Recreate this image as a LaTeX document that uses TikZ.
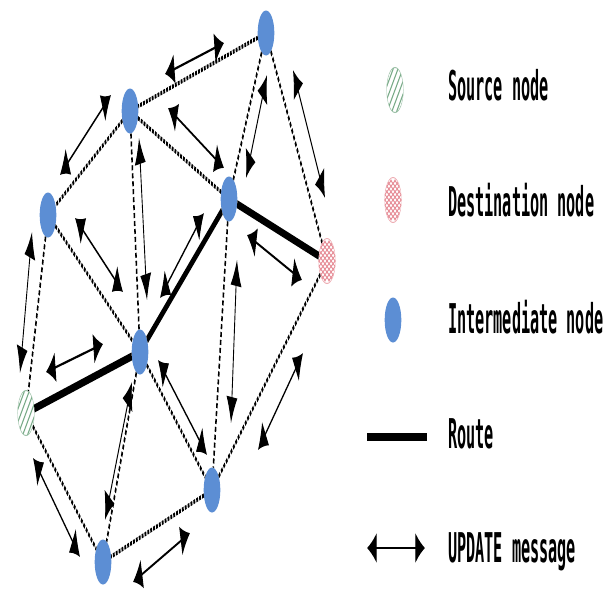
\documentclass[tikz,border=0pt]{standalone}
\usepackage{fontspec}
\setmonofont{DejaVu Sans Mono}
\usetikzlibrary{arrows.meta,calc}

\definecolor{nodeblue}{RGB}{92,142,212}
\definecolor{srcgreen}{RGB}{120,170,135}
\definecolor{dstpink}{RGB}{230,140,150}

\tikzset{
  inter/.style={circle, minimum size=45pt, inner sep=0pt, fill=nodeblue},
  src/.style={circle, minimum size=45pt, inner sep=0pt, draw=srcgreen!70, line width=1pt,
    path picture={\foreach \k in {-5,...,5}{
      \draw[srcgreen, line width=2.2pt]
        ($(path picture bounding box.center)+(\k*13pt-35pt,-35pt)$) -- ++(70pt,70pt);}}},
  dst/.style={circle, minimum size=45pt, inner sep=0pt, draw=dstpink!70, line width=1pt,
    path picture={\foreach \k in {-6,...,6}{
      \draw[dstpink, line width=1.4pt]
        ($(path picture bounding box.center)+(\k*11pt-40pt,-20pt)$) -- ++(80pt,40pt);
      \draw[dstpink, line width=1.4pt]
        ($(path picture bounding box.center)+(\k*11pt-40pt,20pt)$) -- ++(80pt,-40pt);}}},
  link/.style={line width=4.2pt, dash pattern=on 5pt off 3pt},
  route/.style={line width=8pt},
  msg/.style={line width=2.4pt, {Latex[length=26pt,width=30pt]}-{Latex[length=26pt,width=30pt]}},
  lbl/.style={anchor=base west, inner sep=0pt, font=\fontsize{41}{41}\selectfont\ttfamily\bfseries},
}

\begin{document}
\begin{tikzpicture}
\useasboundingbox (0,0) rectangle (615pt,-589pt);
% the whole drawing is narrowed horizontally; coordinates are given in final units
\begin{scope}[transform canvas={xscale=0.37}, x=2.7027pt, y=-1pt]

  % network nodes
  \node[inter] (A) at (266,33)  {};
  \node[inter] (B) at (130,111) {};
  \node[inter] (C) at (48,215)  {};
  \node[inter] (D) at (229,199) {};
  \node[dst]   (E) at (327,261) {};
  \node[inter] (F) at (140,352) {};
  \node[src]   (S) at (26,413)  {};
  \node[inter] (G) at (212,490) {};
  \node[inter] (H) at (103,562) {};

  % radio links
  \foreach \u/\v in {A/B, A/D, A/E, B/C, B/D, B/F, C/S, C/F, D/G, F/G, F/H, S/H, G/H, G/E}
    \draw[link] (\u) -- (\v);

  % chosen route
  \draw[route] (S) -- (F);
  \draw[route] (F) -- (D);
  \draw[route] (D) -- (E);

  % UPDATE messages exchanged along the links
  \draw[msg] (165,74)  -- (224,43);
  \draw[msg] (60,175)  -- (111,95);
  \draw[msg] (168,108) -- (224,168);
  \draw[msg] (267,75)  -- (246,178);
  \draw[msg] (293,70)  -- (325,198);
  \draw[msg] (139,138) -- (147,300);
  \draw[msg] (75,218)  -- (123,292);
  \draw[msg] (204,213) -- (160,298);
  \draw[msg] (247,235) -- (302,280);
  \draw[msg] (32,232)  -- (20,373);
  \draw[msg] (46,372)  -- (103,344);
  \draw[msg] (237,260) -- (231,423);
  \draw[msg] (303,353) -- (258,450);
  \draw[msg] (158,360) -- (207,455);
  \draw[msg] (132,382) -- (105,520);
  \draw[msg] (33,458)  -- (80,557);
  \draw[msg] (190,533) -- (133,582);

  % legend
  \node[src]   (lsrc) at (395,90)  {};
  \node[dst]   (ldst) at (393,200) {};
  \node[inter] (lint) at (393,320) {};
  \coordinate (lr1) at (367,437);
  \coordinate (lr2) at (427,437);
  \draw[route] (lr1) -- (lr2);
  \coordinate (lm1) at (367,548);
  \coordinate (lm2) at (425,548);
  \draw[msg] (lm1) -- (lm2);

  \node[lbl] (tsrc) at (448,100) {Source node};
  \node[lbl] (tdst) at (448,216) {Destination node};
  \node[lbl] (tint) at (448,333) {Intermediate node};
  \node[lbl] (trte) at (448,448) {Route};
  \node[lbl] (tmsg) at (448,562) {UPDATE message};
\end{scope}
\end{tikzpicture}
\end{document}
